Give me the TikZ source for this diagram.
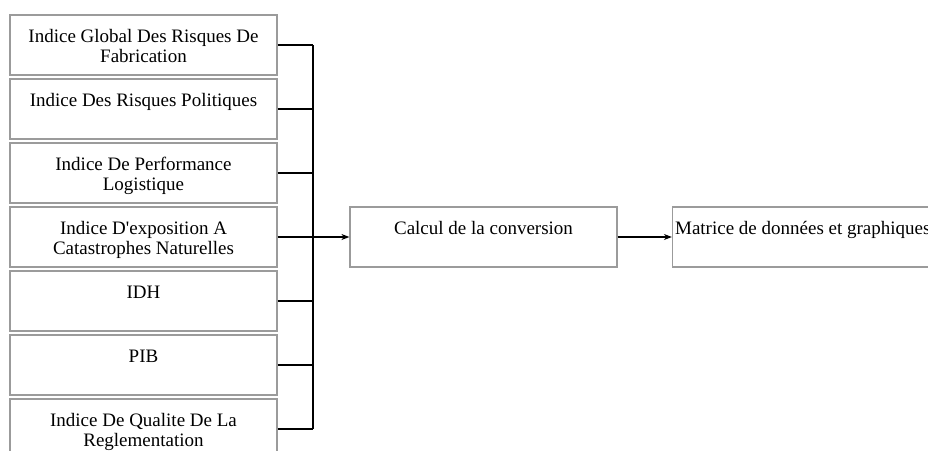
\documentclass[tikz,border=0pt]{standalone}
\usepackage{fontspec}
\setmainfont{Liberation Serif}
\usetikzlibrary{arrows.meta}
\definecolor{boxgray}{RGB}{155,155,155}
\begin{document}
\begin{tikzpicture}[x=1pt,y=-1pt,
  srcbox/.style={draw=boxgray, line width=1.2pt, minimum width=267pt,
                 minimum height=60pt, inner sep=0pt, fill=white},
  boxtext/.style={anchor=north, align=center, inner sep=0pt,
                  font=\fontsize{19}{19.5}\selectfont, text=black},
  link/.style={line width=2pt, draw=black},
  arr/.style={link, -{Stealth[length=8pt,width=6pt]}}]
\useasboundingbox (0,0) rectangle (928,450);
\clip (0,0) rectangle (928,450);

% input indicators
\node[srcbox] (b1) at (143.5,45)  {};
\node[srcbox] (b2) at (143.5,109) {};
\node[srcbox] (b3) at (143.5,173) {};
\node[srcbox] (b4) at (143.5,237) {};
\node[srcbox] (b5) at (143.5,301) {};
\node[srcbox] (b6) at (143.5,365) {};
\node[srcbox] (b7) at (143.5,429) {};

\node[boxtext] (t1) at ([yshift=-15pt]b1.north) {Indice Global Des Risques De\\Fabrication};
\node[boxtext] (t2) at ([yshift=-15pt]b2.north) {Indice Des Risques Politiques};
\node[boxtext] (t3) at ([yshift=-15pt]b3.north) {Indice De Performance\\Logistique};
\node[boxtext] (t4) at ([yshift=-15pt]b4.north) {Indice D\textquotesingle exposition A\\Catastrophes Naturelles};
\node[boxtext] (t5) at ([yshift=-15pt]b5.north) {IDH};
\node[boxtext] (t6) at ([yshift=-15pt]b6.north) {PIB};
\node[boxtext] (t7) at ([yshift=-15pt]b7.north) {Indice De Qualite De La\\Reglementation};

% processing stages
\node[srcbox] (calc) at (483.5,237) {};
\node[boxtext] (tc) at ([yshift=-15pt]calc.north) {Calcul de la conversion};
\node[srcbox] (mat) at (806,237) {};
\node[boxtext, anchor=north west] (tm) at ([xshift=3pt,yshift=-15pt]mat.north west) {Matrice de données et graphiques};

% collecting bus
\coordinate (bus) at (313,0);
\foreach \b in {b1,b2,b3,b5,b6,b7}
  \draw[link] (\b.east) -- (\b.east -| bus);
\draw[link] (b1.east -| bus) -- (b7.east -| bus);
\draw[arr] (b4.east) -- (calc.west);
\draw[arr] (calc.east) -- (mat.west);
\end{tikzpicture}
\end{document}
